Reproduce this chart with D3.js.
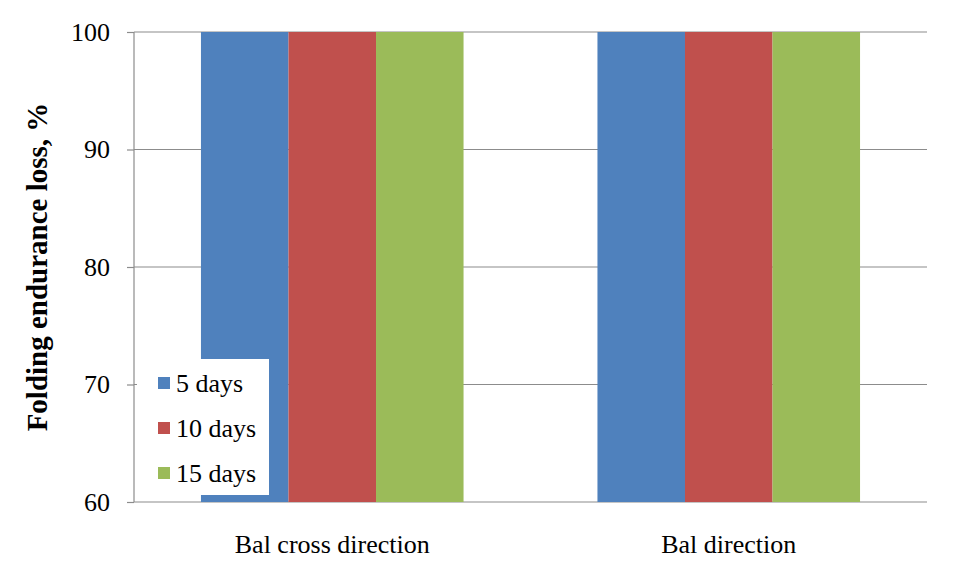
<!DOCTYPE html>
<html><head><meta charset="utf-8">
<script src="https://cdn.jsdelivr.net/npm/d3@7"></script>
<style>body{margin:0;background:#fff}svg{display:block}</style>
</head><body>
<svg id="c" width="962" height="579"></svg>
<script>
const categories = ["Bal cross direction", "Bal direction"];
const seriesNames = ["5 days", "10 days", "15 days"];
const values5 = [100, 100];
const values10 = [100, 100];
const values15 = [100, 100];
const yTicks = [60, 70, 80, 90, 100];
const colors = ["#4F81BD", "#C0504D", "#9BBB59"];

const series = [values5, values10, values15];
const svg = d3.select("#c");
const L = 134, R = 927, T = 32, B = 502;
const font = "'Liberation Serif', 'Times New Roman', serif";

const x0 = d3.scaleBand().domain(categories).range([L, R]).paddingInner(0).paddingOuter(0);
const y = d3.scaleLinear().domain([60, 100]).range([B, T]);
const barW = x0.bandwidth() / (3 + 1.53);
const x1 = d3.scaleBand().domain(seriesNames).range([0, barW * 3]);

// gridlines
svg.append("g").selectAll("line").data(yTicks).join("line")
  .attr("x1", L).attr("x2", R).attr("y1", d => y(d)).attr("y2", d => y(d))
  .attr("stroke", "#8c8c8c").attr("stroke-width", 1.2);

// bars
const data = [];
categories.forEach((c, i) => seriesNames.forEach((s, j) => data.push({c, s, v: series[j][i], j})));
svg.append("g").selectAll("rect").data(data).join("rect")
  .attr("x", d => x0(d.c) + (x0.bandwidth() - barW * 3) / 2 + x1(d.s))
  .attr("width", x1.bandwidth())
  .attr("y", d => y(d.v)).attr("height", d => y(60) - y(d.v))
  .attr("fill", d => colors[d.j]);

// y axis
const yAxis = svg.append("g").attr("transform", `translate(${L},0)`)
  .call(d3.axisLeft(y).tickValues(yTicks).tickSize(7).tickPadding(17));
yAxis.select(".domain").attr("stroke", "#8c8c8c").attr("stroke-width", 1.2).attr("d", `M-0,${T}V${B}`);
yAxis.selectAll(".tick line").attr("stroke", "#8c8c8c").attr("stroke-width", 1.2);
yAxis.selectAll(".tick text").attr("font-family", font).attr("font-size", 26).attr("fill", "#000");

// x axis labels
svg.append("g").selectAll("text").data(categories).join("text")
  .attr("x", d => x0(d) + x0.bandwidth() / 2).attr("y", 553)
  .attr("text-anchor", "middle").attr("font-family", font).attr("font-size", 26)
  .attr("fill", "#000").text(d => d);

// y title
svg.append("text").attr("transform", `translate(47,${(T + B) / 2}) rotate(-90)`)
  .attr("text-anchor", "middle").attr("font-family", font).attr("font-size", 29)
  .attr("font-weight", "bold").attr("fill", "#000").text("Folding endurance loss,  %");

// legend
const lg = svg.append("g");
lg.append("rect").attr("x", 137).attr("y", 359).attr("width", 132).attr("height", 136).attr("fill", "#fff");
const rowsY = [383, 428, 473];
seriesNames.forEach((s, i) => {
  lg.append("rect").attr("x", 158).attr("y", rowsY[i] - 6).attr("width", 12).attr("height", 12).attr("fill", colors[i]);
  lg.append("text").attr("x", 176).attr("y", rowsY[i] + 9).attr("font-family", font).attr("font-size", 26)
    .attr("fill", "#000").text(s);
});
</script>
</body></html>
